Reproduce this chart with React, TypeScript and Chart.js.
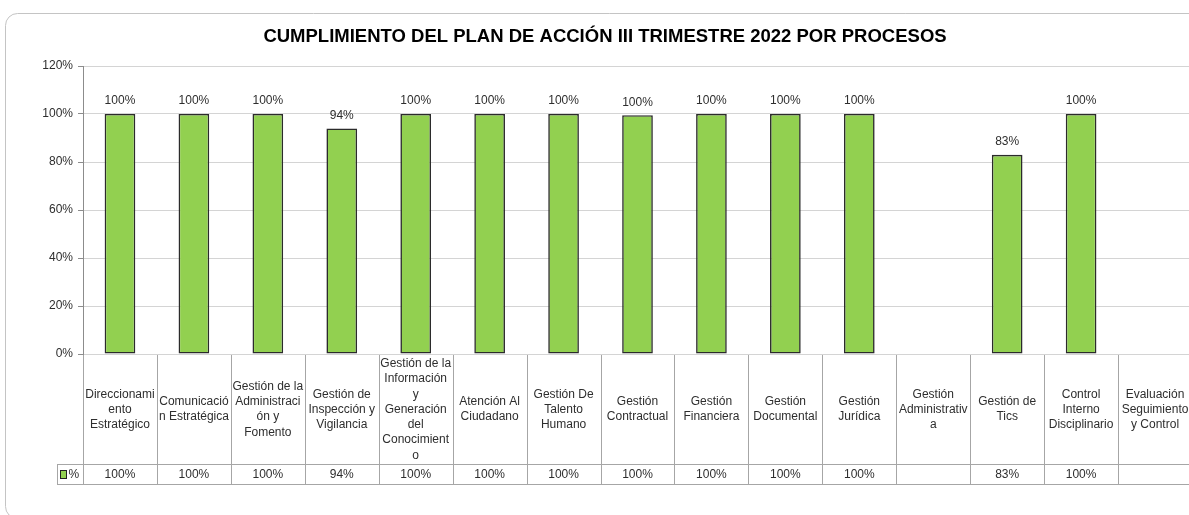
import React, { useEffect, useRef } from "react";
import { Chart, registerables } from "chart.js";

Chart.register(...registerables);

const TITLE = "CUMPLIMIENTO DEL PLAN DE ACCIÓN III TRIMESTRE 2022 POR PROCESOS";

const categoryLines: string[][] = [
  ["Direccionami", "ento", "Estratégico"],
  ["Comunicació", "n Estratégica"],
  ["Gestión de la", "Administraci", "ón y", "Fomento"],
  ["Gestión de", "Inspección y", "Vigilancia"],
  ["Gestión de la", "Información", "y", "Generación", "del", "Conocimient", "o"],
  ["Atención Al", "Ciudadano"],
  ["Gestión De", "Talento", "Humano"],
  ["Gestión", "Contractual"],
  ["Gestión", "Financiera"],
  ["Gestión", "Documental"],
  ["Gestión", "Jurídica"],
  ["Gestión", "Administrativ", "a"],
  ["Gestión de", "Tics"],
  ["Control", "Interno", "Disciplinario"],
  ["Evaluación", "Seguimiento", "y Control"],
];

const values: (number | null)[] = [100, 100, 100, 94, 100, 100, 100, 99.5, 100, 100, 100, null, 83, 100, null];

const valueLabels: string[] = ["100%", "100%", "100%", "94%", "100%", "100%", "100%", "100%", "100%", "100%", "100%", "", "83%", "100%", ""];

const seriesName = "%";

const yTicks: number[] = [0, 20, 40, 60, 80, 100, 120];

const FONT = "'Liberation Sans', Arial, sans-serif";
const TEXT = "#2e2e2e";
const GREEN = "#92d050";
const LINE = "#a6a6a6";

const framePlugin = {
  id: "frame",
  beforeDraw(chart: any) {
    const ctx = chart.ctx;
    ctx.save();
    ctx.fillStyle = "#ffffff";
    ctx.fillRect(0, 0, chart.width, chart.height);
    ctx.strokeStyle = "#c4c4c4";
    ctx.lineWidth = 1;
    const x = 5.5, y = 13.5, w = chart.width + 20, h = 505, r = 12;
    ctx.beginPath();
    ctx.moveTo(x + r, y);
    ctx.lineTo(x + w, y);
    ctx.moveTo(x + r, y);
    ctx.arcTo(x, y, x, y + r, r);
    ctx.lineTo(x, y + h - r);
    ctx.arcTo(x, y + h, x + r, y + h, r);
    ctx.lineTo(x + w, y + h);
    ctx.stroke();
    ctx.restore();
  },
  afterDatasetsDraw(chart: any) {
    const ctx = chart.ctx;
    const area = chart.chartArea;
    const xs = chart.scales.x;
    const meta = chart.getDatasetMeta(0);
    ctx.save();
    // title
    ctx.fillStyle = "#000";
    ctx.font = `bold 18.5px ${FONT}`;
    ctx.textAlign = "center";
    ctx.textBaseline = "middle";
    ctx.fillText(TITLE, 605, 37);

    // data labels above bars
    ctx.font = `12px ${FONT}`;
    ctx.fillStyle = TEXT;
    meta.data.forEach((bar: any, i: number) => {
      if (values[i] == null) return;
      ctx.fillText(valueLabels[i], bar.x, bar.y - 13);
    });

    // data table
    const n = categoryLines.length;
    const colW = (area.right - area.left) / n;
    const top = area.bottom;
    const rowTop = 464;
    const bottom = 484;
    ctx.strokeStyle = LINE;
    ctx.lineWidth = 1;
    ctx.beginPath();
    ctx.moveTo(57, rowTop + 0.5);
    ctx.lineTo(area.right + 10, rowTop + 0.5);
    ctx.moveTo(57, bottom + 0.5);
    ctx.lineTo(area.right + 10, bottom + 0.5);
    ctx.moveTo(57.5, rowTop);
    ctx.lineTo(57.5, bottom);
    for (let i = 0; i <= n; i++) {
      const cx = i < n ? xs.getPixelForValue(i) - colW / 2 : xs.getPixelForValue(n - 1) + colW / 2;
      const px = Math.round(cx) + 0.5;
      ctx.moveTo(px, top + 1);
      ctx.lineTo(px, bottom);
    }
    ctx.stroke();

    // legend key
    ctx.fillStyle = GREEN;
    ctx.fillRect(61, 471, 5, 7);
    ctx.strokeStyle = "#222";
    ctx.strokeRect(60.5, 470.5, 6, 8);
    ctx.fillStyle = TEXT;
    ctx.textAlign = "left";
    ctx.font = `12px ${FONT}`;
    ctx.fillText(seriesName, 68.5, 474.5);

    // category labels and values
    ctx.textAlign = "center";
    const lh = 15.3;
    const midY = (top + rowTop) / 2 + 0.5;
    categoryLines.forEach((lines, i) => {
      const cx = xs.getPixelForValue(i);
      const y0 = midY - ((lines.length - 1) * lh) / 2;
      lines.forEach((t, k) => ctx.fillText(t, cx, y0 + k * lh));
      if (valueLabels[i]) ctx.fillText(valueLabels[i], cx, (rowTop + bottom) / 2 + 0.5);
    });
    ctx.restore();
  },
};

export default function App() {
  const ref = useRef<HTMLCanvasElement | null>(null);
  useEffect(() => {
    if (!ref.current) return;
    const chart = new Chart(ref.current, {
      type: "bar",
      data: {
        labels: categoryLines.map((l) => l.join(" ")),
        datasets: [
          {
            label: seriesName,
            data: values as any,
            backgroundColor: GREEN,
            borderColor: "#2b2b2b",
            borderWidth: 1.6,
            borderSkipped: false,
            barPercentage: 0.415,
            categoryPercentage: 1,
          },
        ],
      },
      options: {
        animation: false,
        responsive: false,
        devicePixelRatio: 1,
        layout: { padding: { top: 66, bottom: 161, left: 0, right: 8 } },
        plugins: { legend: { display: false }, title: { display: false }, tooltip: { enabled: false } },
        scales: {
          x: { display: false },
          y: {
            min: 0,
            max: 120,
            afterFit: (s: any) => {
              s.width = 83;
            },
            afterBuildTicks: (s: any) => {
              s.ticks = yTicks.map((v) => ({ value: v }));
            },
            ticks: {
              padding: 5,
              color: TEXT,
              font: { family: FONT, size: 12 },
              callback: (v: any) => `${v}%`,
            },
            grid: { color: "#d4d4d4", tickColor: "#8c8c8c", tickLength: 5 },
            border: { display: true, color: "#8c8c8c" },
          },
        },
      },
      plugins: [framePlugin],
    });
    return () => chart.destroy();
  }, []);
  return (
    <div style={{ position: "absolute", left: 0, top: 0, width: 1189, height: 515, overflow: "hidden", background: "#fff" }}>
      <canvas ref={ref} width={1200} height={515} style={{ display: "block" }} />
    </div>
  );
}
